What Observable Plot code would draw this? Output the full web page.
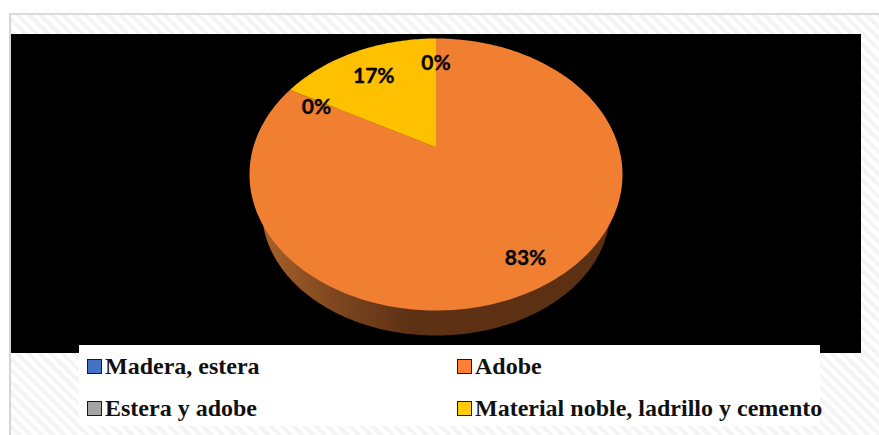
<!DOCTYPE html>
<html lang="es">
<head>
<meta charset="utf-8">
<script src="https://cdn.jsdelivr.net/npm/d3@7"></script>
<script src="https://cdn.jsdelivr.net/npm/@observablehq/plot@0.6"></script>
<style>
  html, body { margin: 0; padding: 0; background: #fff; }
  #page { position: relative; width: 879px; height: 435px; overflow: hidden; }
  #sheet {
    position: absolute; left: 9px; top: 13px; right: 0; bottom: 0;
    border-left: 2px solid #d4d4d4; border-top: 2px solid #dcdcdc;
    background: repeating-linear-gradient(45deg, #fff 0 4px, #f4f4f4 4px 8px);
  }
  #chart { position: absolute; left: 11px; top: 34px; }
  #chart svg { display: block; }
  #legend {
    position: absolute; left: 79px; top: 345px; width: 741px; height: 81px;
    background: #fff; font: bold 24px "Liberation Serif", serif; color: #111;
  }
  .entry { position: absolute; white-space: nowrap; line-height: 24px; padding-left: 26px; }
  .entry i {
    position: absolute; left: 8px; top: 5px; width: 13px; height: 13px;
    border: 1px solid #1a1a1a;
  }
</style>
</head>
<body>
<div id="page">
  <div id="sheet"></div>
  <div id="chart"></div>
  <div id="legend"></div>
</div>
<script>
const categories = ["Madera, estera", "Adobe", "Estera y adobe", "Material noble, ladrillo y cemento"];
const shares = [0, 83, 0, 17];
const colours = ["#4472c4", "#f07f32", "#a5a5a5", "#ffc000"];
const swatchColours = ["#4472c4", "#ff8035", "#a5a5a5", "#ffcc00"];

// Where each percentage label sits: distance from the hub in disc radii,
// and how far its angle is turned away from the middle of the slice.
const labelReach = [0.74, 0.84, 0.77, 0.72];
const labelTurn = [0, 0.002, -0.01, -0.004];

// Tilted disc: perspective maps a unit circle to a unit-spanning ellipse whose
// hub sits above the ellipse centre.
const tilt = 0.2;
const squeeze = Math.sqrt(1 - tilt * tilt);
function project(turn, reach = 1) {
  const a = turn * 2 * Math.PI;
  const u = reach * Math.sin(a);
  const v = -reach * Math.cos(a);
  const d = 1 - tilt * v;
  return {x: (u * squeeze) / d, y: (v - tilt) / d};
}

// Cumulative start and end of each slice, clockwise from twelve o'clock.
const total = d3.sum(shares);
let running = 0;
const slices = categories.map((category, i) => {
  const start = running / total;
  running += shares[i];
  return {category, share: shares[i], start, end: running / total, reach: labelReach[i], turn: labelTurn[i]};
});

const outline = slices.filter(s => s.share > 0).flatMap(s => {
  const steps = Math.max(2, Math.ceil((s.end - s.start) * 360));
  const rim = d3.range(steps + 1).map(k => project(s.start + (s.end - s.start) * k / steps));
  return [project(0, 0), ...rim].map(p => ({...p, category: s.category}));
});

const labels = slices.map(s => ({
  ...project((s.start + s.end) / 2 + s.turn, s.reach),
  text: `${s.share}%`
}));

// Lower rim of the disc, seen below the top face as its thickness.
const wall = d3.range(361).map(deg => {
  const a = deg * Math.PI / 180;
  return {x: 0.933 * Math.sin(a), y: 0.265 + 0.919 * Math.cos(a)};
});

const wallShade = () => {
  const defs = d3.create("svg:defs");
  const grad = defs.append("linearGradient").attr("id", "wall-shade");
  [[0, "#a8602a"], [0.2, "#7f4820"], [0.42, "#5e3114"], [1, "#5c3012"]].forEach(([o, c]) =>
    grad.append("stop").attr("offset", o).attr("stop-color", c));
  return defs.node();
};

const chart = Plot.plot({
  width: 850,
  height: 319,
  margin: 0,
  style: {background: "#000", overflow: "hidden"},
  x: {domain: [-1, 1], range: [238, 611], axis: null},
  y: {domain: [-1, 1], range: [4, 276], axis: null},
  color: {domain: categories, range: colours},
  marks: [
    wallShade,
    Plot.line(wall, {x: "x", y: "y", fill: "url(#wall-shade)", stroke: "none"}),
    Plot.line(outline, {x: "x", y: "y", fill: "category", stroke: "none"}),
    Plot.text(labels, {
      x: "x", y: "y", text: "text", fill: "#050505", stroke: "#050505", strokeWidth: 0.35,
      fontFamily: "Lato", fontWeight: 700, fontSize: 21
    })
  ]
});
document.getElementById("chart").append(chart);

// Two-column legend laid over the lower edge of the black panel.
const legend = d3.select("#legend");
const cells = [[0, 9], [370, 9], [0, 51], [370, 51]];
categories.forEach((name, i) => {
  const e = legend.append("div").attr("class", "entry")
    .style("left", `${cells[i][0]}px`).style("top", `${cells[i][1]}px`);
  e.append("i").style("background", swatchColours[i]);
  e.append("span").text(name);
});
</script>
</body>
</html>
